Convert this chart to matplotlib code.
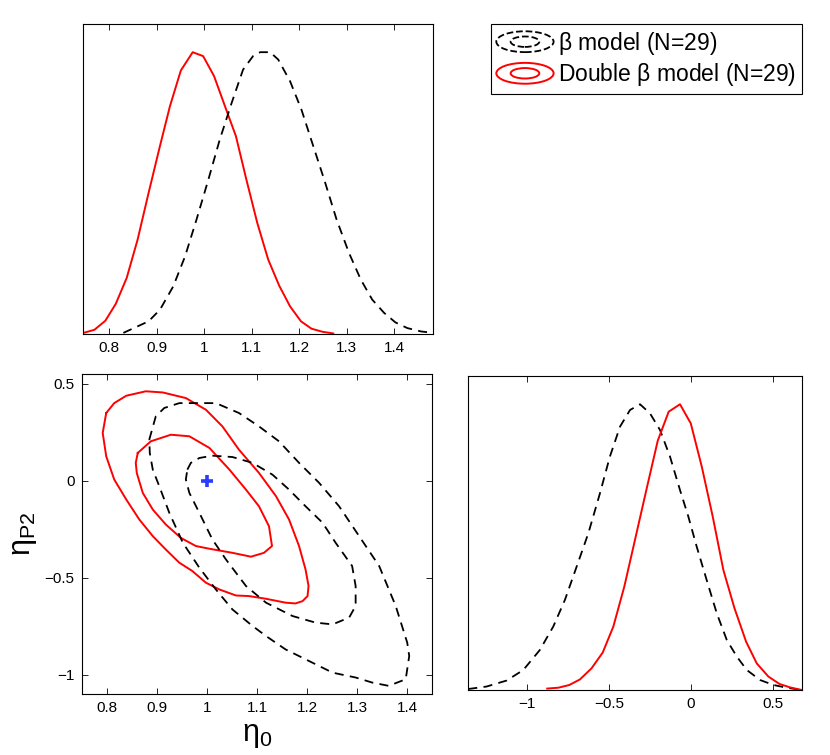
import numpy as np
import matplotlib
matplotlib.use('Agg')
import matplotlib.pyplot as plt
from matplotlib.patches import Ellipse
from matplotlib.legend_handler import HandlerBase
from matplotlib.lines import Line2D

plt.rcParams['font.family'] = ['Liberation Sans', 'DejaVu Sans']
plt.rcParams['mathtext.fontset'] = 'custom'
plt.rcParams['mathtext.rm'] = 'Liberation Sans'
plt.rcParams['mathtext.it'] = 'Liberation Sans:italic'

# marginal of eta_0 (top left)
eta0_red_x = [0.746, 0.769, 0.792, 0.814, 0.837, 0.860, 0.883, 0.906, 0.928, 0.951, 0.976, 0.998,
              1.021, 1.044, 1.067, 1.089, 1.112, 1.135, 1.158, 1.181, 1.204, 1.226, 1.249, 1.272]
eta0_red_p = [0.004, 0.015, 0.047, 0.107, 0.199, 0.335, 0.50, 0.66, 0.808, 0.935, 1.0, 0.986,
              0.915, 0.808, 0.702, 0.548, 0.394, 0.264, 0.172, 0.098, 0.045, 0.019, 0.008, 0.002]
eta0_blk_x = [0.830, 0.883, 0.907, 0.935, 0.960, 0.984, 1.009, 1.033, 1.058, 1.082, 1.103, 1.118,
              1.139, 1.156, 1.181, 1.205, 1.230, 1.254, 1.279, 1.305, 1.330, 1.354, 1.379, 1.403,
              1.428, 1.457, 1.484]
eta0_blk_p = [0.004, 0.045, 0.086, 0.169, 0.276, 0.406, 0.548, 0.69, 0.82, 0.938, 0.986, 1.0,
              1.0, 0.974, 0.897, 0.796, 0.666, 0.542, 0.406, 0.288, 0.193, 0.122, 0.075, 0.041,
              0.021, 0.009, 0.004]

# marginal of eta_P2 (bottom right)
etap2_blk_x = [-1.36, -1.249, -1.126, -1.024, -0.923, -0.841, -0.770, -0.698, -0.627, -0.556,
               -0.495, -0.433, -0.372, -0.311, -0.250, -0.189, -0.128, -0.067, -0.016, 0.035,
               0.096, 0.158, 0.219, 0.280, 0.341, 0.422, 0.504, 0.585, 0.677]
etap2_blk_p = [0.0035, 0.012, 0.033, 0.07, 0.14, 0.222, 0.315, 0.432, 0.548, 0.688, 0.817, 0.922,
               0.980, 1.0, 0.968, 0.91, 0.817, 0.70, 0.607, 0.502, 0.385, 0.268, 0.175, 0.117,
               0.07, 0.035, 0.0175, 0.008, 0.0]
etap2_red_x = [-0.878, -0.810, -0.743, -0.678, -0.607, -0.539, -0.474, -0.407, -0.342, -0.270,
               -0.203, -0.136, -0.067, -0.001, 0.066, 0.133, 0.198, 0.266, 0.337, 0.402, 0.473,
               0.541, 0.606, 0.677]
etap2_red_p = [0.005, 0.008, 0.0175, 0.037, 0.076, 0.131, 0.222, 0.362, 0.525, 0.706, 0.872, 0.974,
               1.0, 0.933, 0.782, 0.607, 0.42, 0.286, 0.169, 0.093, 0.047, 0.021, 0.009, 0.0]

# 2D contours (eta_0, eta_P2)
red_outer_x = [0.799, 0.815, 0.839, 0.878, 0.912, 0.958, 0.998, 1.031, 1.064, 1.104, 1.138, 1.164,
               1.184, 1.197, 1.203, 1.201, 1.191, 1.177, 1.157, 1.118, 1.084, 1.058, 1.025, 0.998,
               0.971, 0.945, 0.918, 0.892, 0.865, 0.839, 0.815, 0.799, 0.792]
red_outer_y = [0.349, 0.40, 0.438, 0.461, 0.455, 0.426, 0.366, 0.280, 0.160, 0.040, -0.080, -0.200,
               -0.337, -0.458, -0.543, -0.595, -0.621, -0.633, -0.629, -0.609, -0.595, -0.592,
               -0.561, -0.526, -0.466, -0.423, -0.355, -0.286, -0.200, -0.097, 0.006, 0.126, 0.246]
red_inner_x = [0.862, 0.888, 0.928, 0.965, 1.005, 1.045, 1.078, 1.104, 1.124, 1.130, 1.114, 1.088,
               1.051, 1.005, 0.978, 0.948, 0.918, 0.892, 0.872, 0.860, 0.858]
red_inner_y = [0.143, 0.203, 0.237, 0.229, 0.169, 0.057, -0.046, -0.132, -0.235, -0.337, -0.372,
               -0.392, -0.372, -0.351, -0.337, -0.295, -0.226, -0.149, -0.063, 0.040, 0.092]
blk_outer_x = [0.885, 0.898, 0.915, 0.945, 0.985, 1.018, 1.064, 1.104, 1.144, 1.184, 1.224, 1.264,
               1.304, 1.344, 1.377, 1.400, 1.404, 1.397, 1.363, 1.330, 1.297, 1.251, 1.197, 1.157,
               1.118, 1.091, 1.051, 1.018, 0.985, 0.952, 0.925, 0.905, 0.892, 0.886]
blk_outer_y = [0.212, 0.332, 0.375, 0.400, 0.400, 0.400, 0.349, 0.280, 0.203, 0.092, -0.011, -0.132,
               -0.286, -0.440, -0.646, -0.835, -0.904, -1.024, -1.058, -1.041, -1.015, -0.990,
               -0.921, -0.870, -0.801, -0.749, -0.664, -0.561, -0.449, -0.320, -0.166, -0.029,
               0.057, 0.143]
blk_inner_x = [0.961, 0.968, 0.985, 1.011, 1.051, 1.091, 1.131, 1.164, 1.197, 1.231, 1.257, 1.290,
               1.297, 1.297, 1.284, 1.251, 1.217, 1.171, 1.118, 1.078, 1.038, 1.011, 0.985, 0.965,
               0.958]
blk_inner_y = [0.057, 0.092, 0.117, 0.129, 0.122, 0.092, 0.031, -0.046, -0.132, -0.217, -0.320,
               -0.440, -0.543, -0.646, -0.706, -0.741, -0.732, -0.698, -0.629, -0.543, -0.406,
               -0.303, -0.166, -0.063, 0.006]

fiducial = (1.0, 0.0)
labels = [r'$\mathrm{\beta}$ model (N=29)', r'Double $\mathrm{\beta}$ model (N=29)']

red = '#ff0000'
dash = (0, (5, 3.5))
lw_red = 1.4
lw_blk = 1.3
tfs = 11


def closed(a):
    return list(a) + [a[0]]


def matlab_ticks(ax):
    ax.tick_params(direction='in', top=True, right=True, length=4, width=0.6,
                   labelsize=tfs, pad=5)
    for s in ax.spines.values():
        s.set_linewidth(0.8)


class HandlerContour(HandlerBase):
    # legend icon: two nested ellipses, like a contour
    def create_artists(self, legend, orig_handle, xdescent, ydescent, width, height,
                       fontsize, trans):
        cx = width / 2 - xdescent
        cy = height / 2 - ydescent
        out = []
        for sc in (1.0, 0.5):
            e = Ellipse((cx, cy), width * sc, height * 1.3 * sc, fill=False,
                        edgecolor=orig_handle.get_color(),
                        linestyle=orig_handle.get_linestyle(),
                        linewidth=orig_handle.get_linewidth(), transform=trans)
            out.append(e)
        return out


fig = plt.figure(figsize=(8.3, 7.55), dpi=100)

ax1 = fig.add_axes([0.100, 0.5576, 0.4217, 0.4106])
ax2 = fig.add_axes([0.0984, 0.0808, 0.4224, 0.4238])
ax3 = fig.add_axes([0.5642, 0.0861, 0.4024, 0.4163])

# top-left marginal
ax1.plot(eta0_red_x, eta0_red_p, color=red, lw=lw_red)
ax1.plot(eta0_blk_x, eta0_blk_p, color='k', lw=lw_blk, linestyle=dash)
ax1.set_xlim(0.745, 1.482)
ax1.set_ylim(0, 1.1)
ax1.set_xticks([0.8, 0.9, 1.0, 1.1, 1.2, 1.3, 1.4])
ax1.set_xticklabels(['0.8', '0.9', '1', '1.1', '1.2', '1.3', '1.4'])
ax1.set_yticks([])
matlab_ticks(ax1)

# bottom-left contours
ax2.plot(closed(red_outer_x), closed(red_outer_y), color=red, lw=lw_red)
ax2.plot(closed(red_inner_x), closed(red_inner_y), color=red, lw=lw_red)
ax2.plot(closed(blk_outer_x), closed(blk_outer_y), color='k', lw=lw_blk, linestyle=dash)
ax2.plot(closed(blk_inner_x), closed(blk_inner_y), color='k', lw=lw_blk, linestyle=dash)
ax2.plot(fiducial[0], fiducial[1], marker='+', color='#2a3cff', markersize=8, mew=2.6)
ax2.set_xlim(0.75, 1.45)
ax2.set_ylim(-1.1, 0.55)
ax2.set_xticks([0.8, 0.9, 1.0, 1.1, 1.2, 1.3, 1.4])
ax2.set_xticklabels(['0.8', '0.9', '1', '1.1', '1.2', '1.3', '1.4'])
ax2.set_yticks([-1, -0.5, 0, 0.5])
ax2.set_yticklabels(['\u22121', '\u22120.5', '0', '0.5'])
matlab_ticks(ax2)
ax2.set_xlabel(r'$\mathrm{\eta_0}$', fontsize=22, labelpad=4)
ax2.set_ylabel(r'$\mathrm{\eta_{P2}}$', fontsize=22, labelpad=4)

# bottom-right marginal
ax3.plot(etap2_blk_x, etap2_blk_p, color='k', lw=lw_blk, linestyle=dash)
ax3.plot(etap2_red_x, etap2_red_p, color=red, lw=lw_red)
ax3.set_xlim(-1.36, 0.68)
ax3.set_ylim(0, 1.1)
ax3.set_xticks([-1, -0.5, 0, 0.5])
ax3.set_xticklabels(['\u22121', '\u22120.5', '0', '0.5'])
ax3.set_yticks([])
matlab_ticks(ax3)

# legend
h1 = Line2D([], [], color='k', lw=lw_blk, linestyle=(0, (4, 3)))
h2 = Line2D([], [], color=red, lw=lw_red)
fig.legend([h1, h2], labels, loc='upper right',
           bbox_to_anchor=(802 / 830, 1 - 24 / 755),
           handler_map={Line2D: HandlerContour()},
           fontsize=16.5, frameon=True, fancybox=False, edgecolor='k',
           framealpha=1, borderpad=0.25, handlelength=2.5, handletextpad=0.2,
           labelspacing=0.2, borderaxespad=0)
fig.legends[0].get_frame().set_linewidth(0.8)

fig.savefig('out.png', dpi=100)
